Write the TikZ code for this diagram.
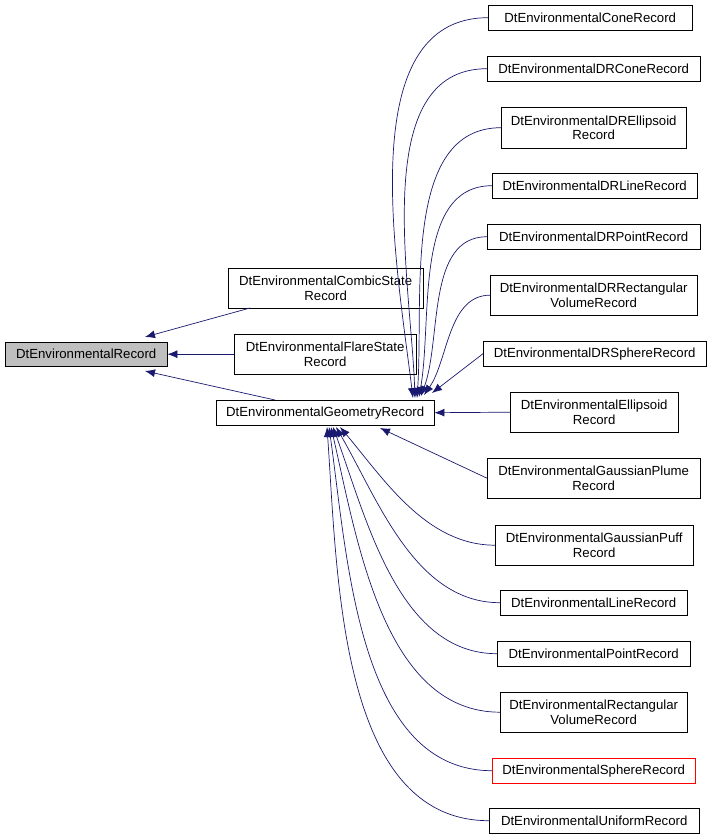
\documentclass[tikz,border=0pt]{standalone}
\usepackage{fontspec}
\setmainfont{Liberation Sans}
\usetikzlibrary{arrows.meta}
\begin{document}
\begin{tikzpicture}[x=1pt,y=-1pt,
 box/.style={draw=black,fill=white,font=\fontsize{13.2}{14.5}\selectfont,align=center,inner sep=0pt,anchor=north west},
 edge/.style={draw={rgb,255:red,25;green,25;blue,112},line width=0.7pt,-{Latex[length=10pt,width=8pt]}}]
\useasboundingbox (0,0) rectangle (712,840);
\node[box,fill={rgb,255:red,191;green,191;blue,191},minimum width=162pt,minimum height=24pt] (r) at (5,342) {DtEnvironmentalRecord};
\node[box,minimum width=195pt,minimum height=40pt] (cs) at (228,268) {DtEnvironmentalCombicState\\Record};
\node[box,minimum width=182pt,minimum height=40pt] (fs) at (234,334) {DtEnvironmentalFlareState\\Record};
\node[box,minimum width=218pt,minimum height=25pt] (g) at (216,400) {DtEnvironmentalGeometryRecord};
\node[box,minimum width=204pt,minimum height=25pt] (c1) at (488,5) {DtEnvironmentalConeRecord};
\node[box,minimum width=213pt,minimum height=25pt] (c2) at (487,56) {DtEnvironmentalDRConeRecord};
\node[box,minimum width=185pt,minimum height=41pt] (c3) at (501,107) {DtEnvironmentalDREllipsoid\\Record};
\node[box,minimum width=205pt,minimum height=25pt] (c4) at (492,173) {DtEnvironmentalDRLineRecord};
\node[box,minimum width=213pt,minimum height=25pt] (c5) at (487,224) {DtEnvironmentalDRPointRecord};
\node[box,minimum width=207pt,minimum height=40pt] (c6) at (490,275) {DtEnvironmentalDRRectangular\\VolumeRecord};
\node[box,minimum width=223pt,minimum height=25pt] (c7) at (483,341) {DtEnvironmentalDRSphereRecord};
\node[box,minimum width=168pt,minimum height=40pt] (c8) at (510,392) {DtEnvironmentalEllipsoid\\Record};
\node[box,minimum width=213pt,minimum height=40pt] (c9) at (487,458) {DtEnvironmentalGaussianPlume\\Record};
\node[box,minimum width=198pt,minimum height=40pt] (c10) at (495,525) {DtEnvironmentalGaussianPuff\\Record};
\node[box,minimum width=187pt,minimum height=25pt] (c11) at (500,590) {DtEnvironmentalLineRecord};
\node[box,minimum width=193pt,minimum height=25pt] (c12) at (497,641) {DtEnvironmentalPointRecord};
\node[box,minimum width=187pt,minimum height=40pt] (c13) at (500,692) {DtEnvironmentalRectangular\\VolumeRecord};
\node[box,draw=red,minimum width=203pt,minimum height=25pt] (c14) at (492,758) {DtEnvironmentalSphereRecord};
\node[box,minimum width=210pt,minimum height=25pt] (c15) at (489,808) {DtEnvironmentalUniformRecord};
% edges to root
\coordinate (r1) at (145,337); \coordinate (r2) at (145,371);
\coordinate (s1) at (250,308); \coordinate (s3) at (275,400);
\draw[edge] (s1) -- (r1);
\draw[edge] (fs.west) -- (r.east);
\draw[edge] (s3) -- (r2);
% top children
\foreach \n/\a/\tx/\ty in {c1/97/413/398,c2/92/415/398,c3/86/417/398,c4/80/419/397,c5/70/421/396,c6/55/424/395}{
  \draw[edge] (\n.west) to[out=180,in=\a,looseness=0.9] (\tx,\ty);}
\draw[edge] (c7.west) -- (432,393);
\draw[edge] (c8.west) -- (g.east);
% bottom children
\draw[edge] (c9.west) -- (380,428);
\foreach \n/\a/\tx in {c10/-50/340,c11/-60/336,c12/-70/333,c13/-77/331,c14/-82/329,c15/-86/327}{
  \draw[edge] (\n.west) to[out=180,in=\a,looseness=0.9] (\tx,427);}
\end{tikzpicture}
\end{document}
